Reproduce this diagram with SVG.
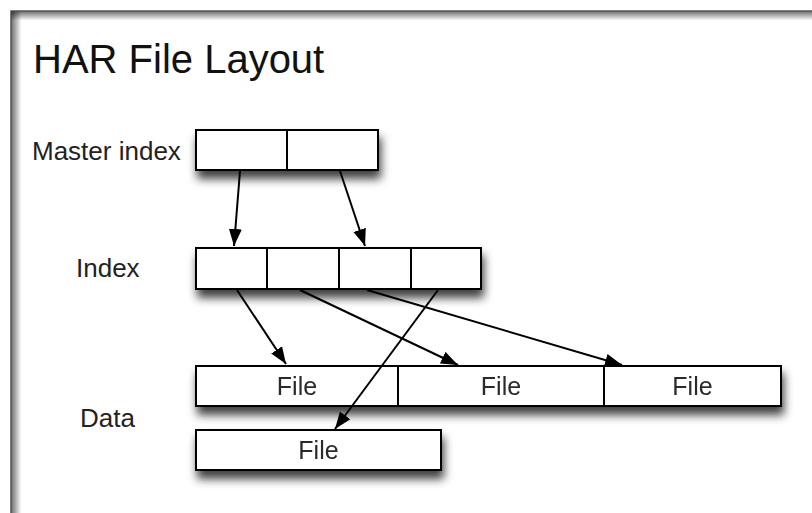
<svg xmlns="http://www.w3.org/2000/svg" width="812" height="513" viewBox="0 0 812 513">
  <defs>
    <style>
      .cell { fill: #ffffff; stroke: #000000; stroke-width: 2; }
      .label { font-family: "Liberation Sans", Arial, Helvetica, sans-serif; font-size: 26px; fill: #222222; }
      .file { font-family: "Liberation Sans", Arial, Helvetica, sans-serif; font-size: 25px; fill: #2a2a2a; text-anchor: middle; }
      .title { font-family: "Liberation Sans", Arial, Helvetica, sans-serif; font-size: 40px; fill: #111111; }
      .link { fill: none; stroke: #000000; stroke-width: 2; marker-end: url(#arrow); }
    </style>
    <filter id="shadow" x="-10%" y="-30%" width="125%" height="200%">
      <feDropShadow dx="2" dy="8" stdDeviation="5" flood-color="#000000" flood-opacity="0.75"/>
    </filter>
    <marker id="arrow" markerUnits="userSpaceOnUse" markerWidth="18" markerHeight="14" refX="17" refY="7" orient="auto">
      <path d="M0,0.5 L17,7 L0,13.5 Z" fill="#000000"/>
    </marker>
    <linearGradient id="edgeLeft" x1="0" y1="0" x2="1" y2="0">
      <stop offset="0" stop-color="#000000" stop-opacity="0.55"/>
      <stop offset="1" stop-color="#000000" stop-opacity="0"/>
    </linearGradient>
    <linearGradient id="edgeTop" x1="0" y1="0" x2="0" y2="1">
      <stop offset="0" stop-color="#000000" stop-opacity="0.55"/>
      <stop offset="1" stop-color="#000000" stop-opacity="0"/>
    </linearGradient>
  </defs>

  <!-- page and its framed panel -->
  <rect x="0" y="0" width="812" height="513" fill="#ffffff"/>
  <g id="frame">
    <rect x="11" y="11" width="820" height="520" fill="#ffffff" stroke="#555555" stroke-width="1.5"/>
    <rect x="11.5" y="11.5" width="10" height="520" fill="url(#edgeLeft)"/>
    <rect x="11.5" y="11.5" width="820" height="9" fill="url(#edgeTop)"/>
  </g>

  <text class="title" x="33" y="73">HAR File Layout</text>

  <!-- row labels -->
  <g id="label-master"><text class="label" x="32" y="160">Master index</text></g>
  <g id="label-index"><text class="label" x="76" y="277">Index</text></g>
  <g id="label-data"><text class="label" x="80" y="427">Data</text></g>

  <!-- master index: two entries -->
  <g id="master-index" filter="url(#shadow)">
    <rect class="cell" x="196" y="130" width="91" height="40"/>
    <rect class="cell" x="287" y="130" width="91" height="40"/>
  </g>

  <!-- index: four entries -->
  <g id="index" filter="url(#shadow)">
    <rect class="cell" x="196" y="248" width="71" height="41"/>
    <rect class="cell" x="267" y="248" width="72" height="41"/>
    <rect class="cell" x="339" y="248" width="72" height="41"/>
    <rect class="cell" x="411" y="248" width="70" height="41"/>
  </g>

  <!-- data files -->
  <g id="data" filter="url(#shadow)">
    <g id="file-1">
      <rect class="cell" x="196" y="366" width="202" height="40"/>
      <text class="file" x="297" y="395">File</text>
    </g>
    <g id="file-2">
      <rect class="cell" x="398" y="366" width="206" height="40"/>
      <text class="file" x="501" y="395">File</text>
    </g>
    <g id="file-3">
      <rect class="cell" x="604" y="366" width="177" height="40"/>
      <text class="file" x="692.5" y="395">File</text>
    </g>
    <g id="file-4">
      <rect class="cell" x="196" y="430" width="245" height="40"/>
      <text class="file" x="318.5" y="459">File</text>
    </g>
  </g>

  <!-- pointers between levels -->
  <g id="connectors">
    <line class="link" x1="240" y1="171" x2="234" y2="246"/>
    <line class="link" x1="340" y1="171" x2="365" y2="246"/>
    <line class="link" x1="237" y1="290" x2="286" y2="364"/>
    <line class="link" x1="300" y1="290" x2="458" y2="365"/>
    <line class="link" x1="367" y1="290" x2="622" y2="365"/>
    <line class="link" x1="438" y1="290" x2="335" y2="429"/>
  </g>
</svg>
